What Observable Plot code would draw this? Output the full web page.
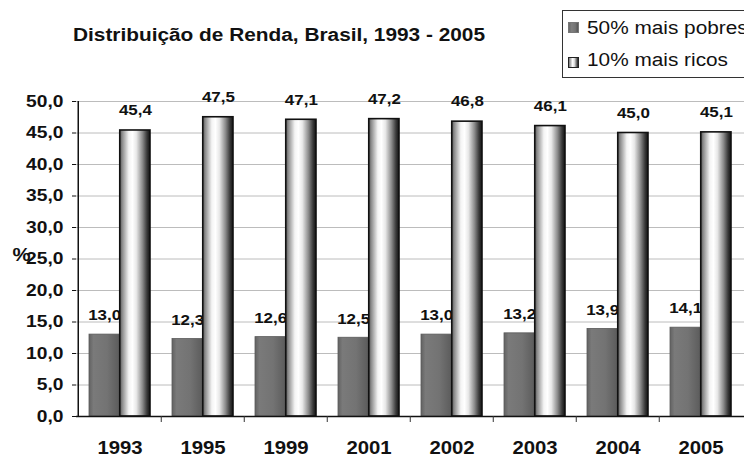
<!DOCTYPE html>
<html>
<head>
<meta charset="utf-8">
<script src="https://cdn.jsdelivr.net/npm/d3@7"></script>
<script src="https://cdn.jsdelivr.net/npm/@observablehq/plot@0.6"></script>
<style>
  html, body { margin: 0; padding: 0; background: #fff; overflow: hidden; }
  #wrap { position: relative; width: 744px; height: 457px; overflow: hidden; font-family: "Liberation Sans", Arial, sans-serif; color: #111; }
  #header { position: relative; width: 744px; height: 88px; }
  .stretch { position: absolute; display: inline-block; white-space: nowrap; transform-origin: 0 0; line-height: 18px; font-size: 18px; }
  #title { left: 73px; top: 26px; font-weight: bold; }
  #legend { position: absolute; left: 562px; top: 10px; width: 220px; height: 66px; border: 1.5px solid #333; background: #fff; }
  .sw { position: absolute; left: 5px; width: 11px; height: 11px; border: 1px solid #333; box-sizing: border-box; }
  #sw1 { top: 11px; background: linear-gradient(to right, #6a6a6a, #808080 30%, #747474 70%, #555); border-color: #777; }
  #sw2 { top: 46px; background: linear-gradient(to right, #777, #fff 40%, #ddd 60%, #222); border-color: #222; }
  #lg1 { left: 24px; top: 8px; }
  #lg2 { left: 24px; top: 40px; }
  svg text { font-family: "Liberation Sans", Arial, sans-serif; }
</style>
</head>
<body>
<div id="wrap">
  <div id="header">
    <span id="title" class="stretch"></span>
    <div id="legend">
      <div class="sw" id="sw1"></div>
      <span id="lg1" class="stretch"></span>
      <div class="sw" id="sw2"></div>
      <span id="lg2" class="stretch"></span>
    </div>
  </div>
  <div id="chart"></div>
</div>
<script>
// ---- data ----
const title = "Distribuição de Renda, Brasil, 1993 - 2005";
const seriesNames = ["50% mais pobres", "10% mais ricos"];
const years = ["1993", "1995", "1999", "2001", "2002", "2003", "2004", "2005"];
const pobres = [13.0, 12.3, 12.6, 12.5, 13.0, 13.2, 13.9, 14.1];
const ricos = [45.4, 47.5, 47.1, 47.2, 46.8, 46.1, 45.0, 45.1];
const yTicks = [0, 5, 10, 15, 20, 25, 30, 35, 40, 45, 50];
const yLabel = "%";

const fmt = d => d.toFixed(1).replace(".", ",");
const pobresData = years.map((y, i) => ({year: y, v: pobres[i]}));
const ricosData = years.map((y, i) => ({year: y, v: ricos[i]}));

document.getElementById("title").textContent = title;
document.getElementById("lg1").textContent = seriesNames[0];
document.getElementById("lg2").textContent = seriesNames[1];

const W = 744, H = 369;
const mL = 76, mR = 0, mT = 13, mB = 41;
const band = (W - mL - mR) / years.length;
const half = band / 2;
const gap = 11;             // outer gap inside each category
const barW = (band - 2 * gap) / 2;
const bold = "bold";

const chart = Plot.plot({
  width: W,
  height: H,
  marginLeft: mL,
  marginRight: mR,
  marginTop: mT,
  marginBottom: mB,
  style: {background: "#fff", color: "#111", fontFamily: "Liberation Sans, Arial, sans-serif"},
  x: {type: "band", domain: years, padding: 0, label: null},
  y: {domain: [0, 50], label: null},
  marks: [
    Plot.ruleY(yTicks.filter(d => d > 0), {stroke: "#bcbcbc", strokeWidth: 1}),
    Plot.barY(pobresData, {x: "year", y: "v", fill: "url(#gPobre)", stroke: "#5a5a5a", strokeWidth: 0.8,
      insetLeft: gap, insetRight: band - gap - barW - half + half}),
    Plot.text(pobresData, {x: "year", y: "v", text: d => fmt(d.v), dx: -(half - gap - barW / 2), dy: -19,
      fontSize: 15, fontWeight: bold, fill: "#111"}),
    Plot.barY(ricosData, {x: "year", y: "v", fill: "url(#gRico)", stroke: "#111", strokeWidth: 1.6,
      insetLeft: gap + barW, insetRight: gap}),
    Plot.text(ricosData, {x: "year", y: "v", text: d => fmt(d.v), dx: (half - gap - barW / 2), dy: -20,
      fontSize: 15, fontWeight: bold, fill: "#111"}),
    Plot.ruleY([0], {stroke: "#111", strokeWidth: 1.5}),
    Plot.ruleX([years[0]], {dx: -half, stroke: "#111", strokeWidth: 1.5}),
    Plot.ruleX(years.slice(1), {dx: -half, stroke: "#333", strokeWidth: 1, insetTop: H - mT - mB, insetBottom: -6}),
    Plot.axisY({ticks: yTicks, tickFormat: fmt, tickSize: 4, tickPadding: 9, fontSize: 17, fontWeight: bold, label: null, stroke: "#111"}),
    Plot.axisX({tickSize: 0, tickPadding: 25, fontSize: 18, fontWeight: bold, label: null}),
    Plot.text([yLabel], {frameAnchor: "left", dx: -55, dy: -4, textAnchor: "middle", fontSize: 18, fontWeight: bold, fill: "#111"})
  ]
});

// gradients
const svg = d3.select(chart);
const defs = svg.insert("defs", ":first-child");
const gR = defs.append("linearGradient").attr("id", "gRico").attr("x1", 0).attr("x2", 1).attr("y1", 0).attr("y2", 0);
[[0, "#555"], [0.08, "#8a8a8a"], [0.3, "#f4f4f4"], [0.42, "#ffffff"], [0.55, "#e8e8e8"], [0.75, "#8c8c8c"], [0.9, "#3a3a3a"], [1, "#111"]]
  .forEach(([o, c]) => gR.append("stop").attr("offset", o).attr("stop-color", c));
const gP = defs.append("linearGradient").attr("id", "gPobre").attr("x1", 0).attr("x2", 1).attr("y1", 0).attr("y2", 0);
[[0, "#626262"], [0.15, "#7a7a7a"], [0.6, "#737373"], [1, "#5c5c5c"]]
  .forEach(([o, c]) => gP.append("stop").attr("offset", o).attr("stop-color", c));

document.getElementById("chart").appendChild(chart);

// horizontal stretch of SVG text to match the reference's wide lettering
svg.selectAll("text").each(function () {
  const w = this.getComputedTextLength();
  if (w > 0) {
    this.setAttribute("textLength", (w * 1.13).toFixed(2));
    this.setAttribute("lengthAdjust", "spacingAndGlyphs");
  }
});

// stretch HTML header text
function fit(id, target) {
  const el = document.getElementById(id);
  const w = el.getBoundingClientRect().width;
  el.style.transform = `scaleX(${target / w})`;
  return target / w;
}
fit("title", 412);
const k = fit("lg2", 141);
document.getElementById("lg1").style.transform = `scaleX(${k})`;
</script>
</body>
</html>
